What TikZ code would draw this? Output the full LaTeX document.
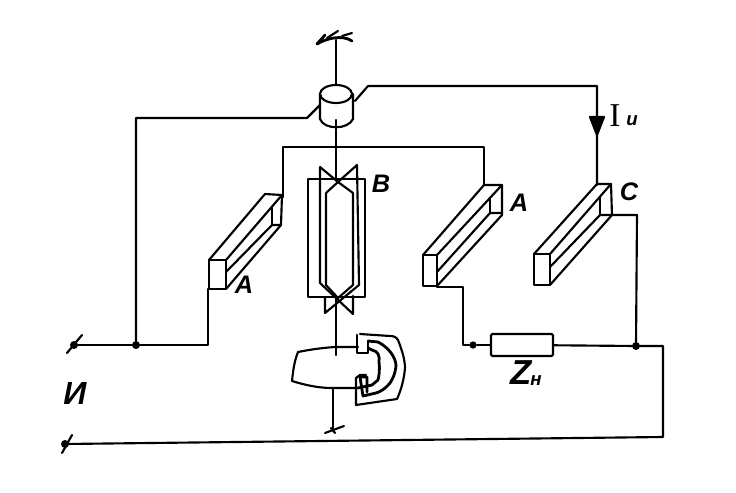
\documentclass[tikz,border=0pt]{standalone}
\usepackage{fontspec}
\setmainfont{Liberation Sans}
\usetikzlibrary{arrows.meta,calc}
\tikzset{
  ln/.style={line width=1.6pt,line cap=round,line join=round},
  hv/.style={line width=2.1pt,line cap=round,line join=round},
  lab/.style={inner sep=0pt,font=\fontsize{19}{19}\selectfont\itshape\bfseries},
  sublab/.style={inner sep=0pt,font=\fontsize{14}{14}\selectfont\itshape\bfseries},
  dotn/.style={circle,fill=black,inner sep=0pt,minimum size=6pt},
  res/.style={draw,line width=1.6pt,rounded corners=1pt,inner sep=0pt,minimum width=46.5pt,minimum height=16.5pt}
}
\begin{document}
\begin{tikzpicture}[x=0.75pt,y=-0.75pt]
\useasboundingbox (0,0) rectangle (736,493);
\fill[white] (0,0) rectangle (736,493);
% --- nodes ---
\node[res] (R) at (522,345) {};
\node[dotn] (J1) at (136,345) {};
\node[dotn] (J2) at (636,346) {};
\node[dotn,minimum size=5.5pt] (J3) at (473,345) {};
\node[dotn] (T1) at (74,345) {};
\node[dotn] (T2) at (65,444) {};
\coordinate (cylL) at (320,105);
\coordinate (cylR) at (355,101);
% --- top rotation mark ---
\draw[hv] (317,44) .. controls (325,39) and (342,34) .. (352,41);
\draw[hv] (317,44) -- (325,35);
\draw[ln] (327,38) -- (338,31);
\draw[ln] (342,36) -- (352,33);
\draw[ln] (336,40) -- (336,84);
% --- cylinder (contact head) ---
\draw[ln] (336,94) ellipse (16 and 9);
\draw[ln] (320,94) -- (320,119) .. controls (324,130) and (348,130) .. (353,119) -- (353,94);
\draw[ln] (336,120) -- (336,179);
% --- wires from head ---
\draw[ln] (J1) -- (136,118) -- (307,118) -- (cylL);
\draw[ln] (cylR) -- (368,86) -- (597,86) -- (597,185);
\draw[ln,fill=black] (590,117) -- (604,117) -- (597,135) -- cycle;
% --- voltage loop top wire ---
\draw[ln] (283,197) -- (283,147) -- (484,147) -- (484,185);
% --- coil B ---
\draw[ln] (308,179) rectangle (365,297);
\draw[ln] (338,182) -- (320,167) -- (320,283) -- (353,314) -- (353,296);
\draw[ln] (338,182) -- (357,165) -- (359,285) -- (325,313) -- (325,297);
\draw[ln] (338,182) -- (326,193) -- (326,285) -- (338,298) -- (353,285) -- (353,193) -- cycle;
\draw[ln] (336,297) -- (336,355);
% --- left block A ---
\draw[ln] (209,260) rectangle (226,289);
\draw[ln] (209,260) -- (265,194) -- (282,195) -- (281,225) -- (226,289);
\draw[ln] (226,260) -- (282,195);
\draw[ln] (226,272) -- (272,225) -- (281,225);
\draw[ln] (272,208) -- (272,225);
\draw[ln] (208,289) -- (208,345) -- (J1);
\draw[ln] (J1) -- (T1);
% --- middle block A ---
\draw[ln] (423,255) rectangle (437,286);
\draw[ln] (423,255) -- (484,185) -- (502,185) -- (502,215) -- (437,286);
\draw[ln] (437,255) -- (502,185);
\draw[ln] (437,272) -- (490,213) -- (502,213);
\draw[ln] (490,198) -- (490,213);
\draw[ln] (437,287) -- (463,287) -- (463,345) -- (J3) -- (R);
% --- block C ---
\draw[ln] (534,254) rectangle (550,285);
\draw[ln] (534,254) -- (597,184) -- (611,184) -- (612,215) -- (550,285);
\draw[ln] (550,254) -- (611,184);
\draw[ln] (550,267) -- (600,215) -- (612,215);
\draw[ln] (600,197) -- (600,215);
\draw[ln] (612,215) -- (637,215) -- (J2);
% --- load and return ---
\draw[ln] (R) -- (J2) -- (663,346) -- (663,437) -- (T2);
% --- terminals ---
\draw[ln] (67,353) -- (82,335);
\draw[ln] (62,453) -- (72,435);
% --- disc ---
\draw[ln] (358,347) -- (335,347) .. controls (320,348) and (308,350) .. (298,352) .. controls (294,362) and (293,372) .. (292,381) .. controls (305,385) and (318,388) .. (332,388) -- (358,388);
% --- damping magnet ---
\draw[ln] (360,334) -- (390,336) .. controls (394,336) and (396,337) .. (398,340) .. controls (402,350) and (405,360) .. (405,368) .. controls (404,380) and (401,390) .. (397,399) -- (356,405) -- (356,378) -- (360,375) -- (366,375);
\draw[hv] (357,335) -- (357,353) -- (368,353) -- (368,342);
\draw[hv] (368,348) -- (372,350) .. controls (378,351) and (380,356) .. (379,362) .. controls (380,370) and (379,376) .. (378,380) -- (372,385) -- (358,388);
\draw[hv] (368,341) -- (378,342) .. controls (388,347) and (396,357) .. (396,366) .. controls (395,375) and (392,380) .. (390,383) .. controls (385,389) and (380,392) .. (376,393) -- (363,396) -- (360,377) -- (367,377) -- (367,392);
\draw[ln] (333,388) -- (333,428);
\draw[ln] (325,433) -- (344,426);
\draw[ln] (331,428) -- (335,433);
% --- labels ---
\node[lab] (lA1) at (244,285) {A};
\node[lab] (lB) at (381,184) {B};
\node[lab] (lA2) at (519,203) {A};
\node[lab] (lC) at (629,192) {C};
\node[lab,font=\fontsize{25}{25}\selectfont\rmfamily] (lI) at (615,116) {\fontspec{Liberation Serif}I};
\node[sublab] (lIi) at (632,121) {и};
\node[lab,font=\fontsize{26}{26}\selectfont\itshape\bfseries] (lZ) at (521,373) {Z};
\node[sublab] (lZn) at (536,381) {н};
\node[lab,font=\fontsize{24}{24}\selectfont\itshape\bfseries] (lU) at (75,393) {И};
\end{tikzpicture}
\end{document}
